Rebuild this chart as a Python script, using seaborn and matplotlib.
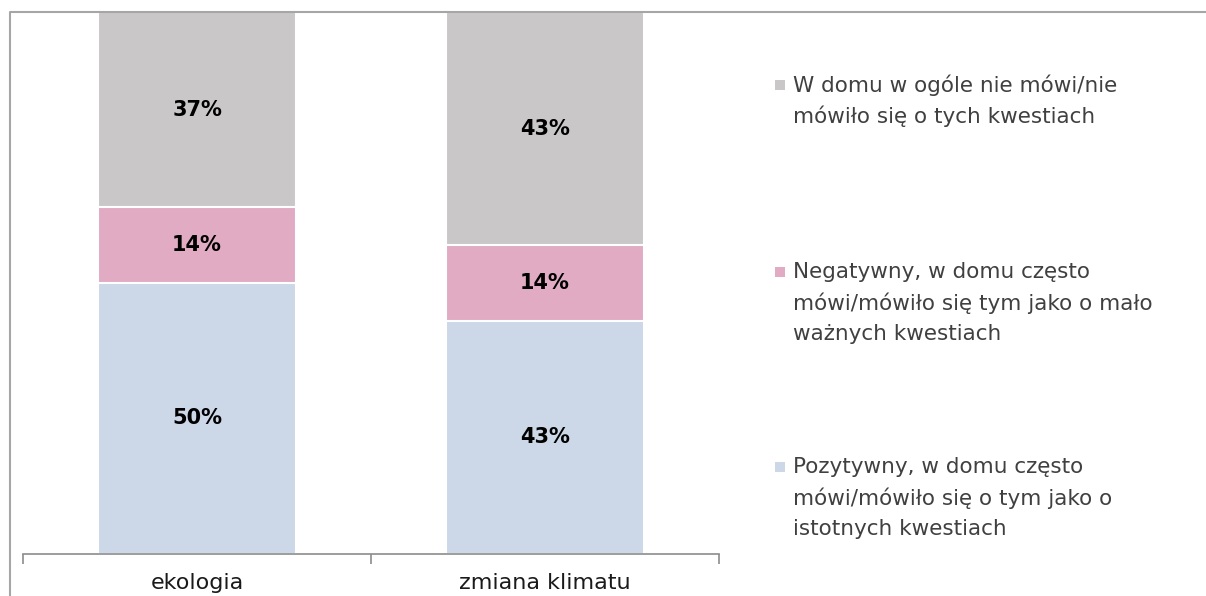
import numpy as np
import pandas as pd
import matplotlib
matplotlib.use('Agg')
import matplotlib.pyplot as plt
from matplotlib.lines import Line2D
from matplotlib.patches import Rectangle
import seaborn as sns

# data
categories = ['ekologia', 'zmiana klimatu']
pozytywny = [50, 43]
negatywny = [14, 14]
brak = [37, 43]
series_names = [
    'Pozytywny, w domu często\nmówi/mówiło się o tym jako o\nistotnych kwestiach',
    'Negatywny, w domu często\nmówi/mówiło się tym jako o mało\nważnych kwestiach',
    'W domu w ogóle nie mówi/nie\nmówiło się o tych kwestiach',
]
colors = ['#CCD8E7', '#E0ABC3', '#C9C7C8']

sns.set_style('white')
plt.rcParams['font.family'] = ['DejaVu Sans']

W, H = 1206, 596
fig = plt.figure(figsize=(W / 100, H / 100), dpi=100)
ax = fig.add_axes([23 / W, (H - 554) / H, (719 - 23) / W, (554 - 12) / H])

df = pd.DataFrame({'kat': categories, 'poz': pozytywny, 'neg': negatywny, 'brak': brak})
df['c1'] = df['poz']
df['c2'] = df['poz'] + df['neg']
df['c3'] = df['c2'] + df['brak']

# stacked bars: draw tallest first, then overlay
for col, c in zip(['c3', 'c2', 'c1'], colors[::-1]):
    sns.barplot(data=df, x='kat', y=col, color=c, width=0.57, ax=ax,
                edgecolor='white', linewidth=1.5, saturation=1, errorbar=None)

for i in range(len(categories)):
    bottom = 0
    for vals in [pozytywny, negatywny, brak]:
        v = vals[i]
        top = min(bottom + v, 100)
        ax.text(i, (bottom + top) / 2, f'{v}%', ha='center', va='center',
                fontsize=15, fontweight='bold', color='black')
        bottom += v

ax.set_ylim(0, 100)
ax.set_xlim(-0.5, 1.5)
ax.set_xlabel('')
ax.set_ylabel('')
ax.set_yticks([])
ax.set_xticks([-0.5, 0.5, 1.5], minor=True)
ax.tick_params(axis='x', which='minor', length=7, width=1.2, color='#8C8C8C', bottom=True)
ax.tick_params(axis='x', which='major', length=0, pad=14, labelsize=16, labelcolor='#1A1A1A')
for s in ['top', 'right', 'left']:
    ax.spines[s].set_visible(False)
ax.spines['bottom'].set_color('#8C8C8C')
ax.spines['bottom'].set_linewidth(1.2)

# frame of the chart area
fig.add_artist(Line2D([10 / W, 10 / W, 1.0], [0, 1 - 12 / H, 1 - 12 / H],
                      transform=fig.transFigure, color='#A6A6A6', lw=1.5))

# legend
leg_tops = [85, 272, 467]
line_gap = 31
for name, c, y0 in zip(series_names[::-1], colors[::-1], leg_tops):
    fig.add_artist(Rectangle((775 / W, 1 - (y0 + 5) / H), 10 / W, 10 / H,
                             transform=fig.transFigure, color=c, lw=0))
    for k, line in enumerate(name.split('\n')):
        fig.text(793 / W, 1 - (y0 + k * line_gap) / H, line, ha='left', va='center',
                 fontsize=15.5, color='#404040')

fig.savefig('out.png', dpi=100)
